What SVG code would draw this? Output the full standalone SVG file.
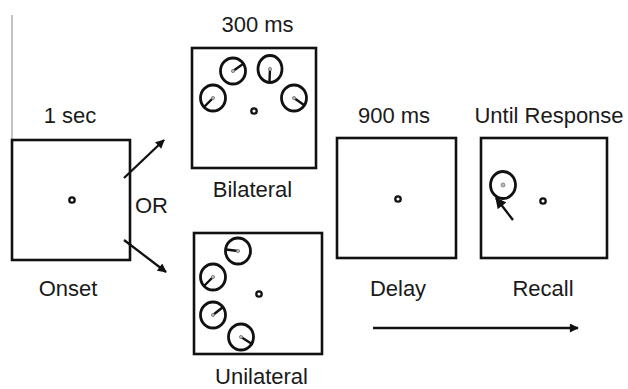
<svg xmlns="http://www.w3.org/2000/svg" width="628" height="389" viewBox="0 0 628 389">
  <style>
    .lbl { font-family: "Liberation Sans", Arial, sans-serif; font-size: 22px; fill: #1a1a1a; text-anchor: middle; }
    .box { fill: #ffffff; stroke: #111111; stroke-width: 2.6; }
    .fix { fill: #ffffff; stroke: #111111; stroke-width: 2.3; }
    .ring { fill: none; stroke: #111111; stroke-width: 2.8; }
    .hand { stroke: #111111; stroke-width: 2.4; stroke-linecap: round; }
    .pivot { fill: #bbbbbb; stroke: #777777; stroke-width: 0.8; }
    .conn { stroke: #111111; stroke-width: 2.3; fill: none; }
  </style>
  <defs>
    <marker id="ah" viewBox="0 0 10 10" refX="9" refY="5" markerUnits="userSpaceOnUse" markerWidth="10" markerHeight="9" orient="auto">
      <path d="M0,0 L10,5 L0,10 z" fill="#111111"/>
    </marker>
    <marker id="ahBig" viewBox="0 0 10 10" refX="9" refY="5" markerUnits="userSpaceOnUse" markerWidth="12" markerHeight="11" orient="auto">
      <path d="M0,0 L10,5 L0,10 z" fill="#111111"/>
    </marker>
  </defs>

  <line x1="12" y1="15" x2="12" y2="140" stroke="#8a8a8a" stroke-width="1"/>

  <g id="onset">
    <rect class="box" x="12" y="140" width="118" height="120"/>
    <circle class="fix" cx="72" cy="200" r="2.7"/>
    <text class="lbl" x="70" y="123">1 sec</text>
    <text class="lbl" x="68" y="296">Onset</text>
  </g>

  <g id="bilateral">
    <rect class="box" x="192" y="48" width="124" height="120"/>
    <circle class="fix" cx="254" cy="111" r="2.7"/>
    <ellipse class="ring" cx="233" cy="71" rx="12.5" ry="13"/>
    <line class="hand" x1="233" y1="71" x2="243" y2="64"/>
    <circle class="pivot" cx="233" cy="71" r="1.6"/>
    <ellipse class="ring" cx="270" cy="69" rx="12" ry="13.5"/>
    <line class="hand" x1="270" y1="69" x2="269.5" y2="81"/>
    <circle class="pivot" cx="270" cy="69" r="1.6"/>
    <ellipse class="ring" cx="213" cy="98" rx="12.5" ry="13"/>
    <line class="hand" x1="213" y1="98" x2="204.5" y2="106.5"/>
    <circle class="pivot" cx="213" cy="98" r="1.6"/>
    <ellipse class="ring" cx="294" cy="98" rx="12.5" ry="13"/>
    <line class="hand" x1="294" y1="98" x2="304" y2="105"/>
    <circle class="pivot" cx="294" cy="98" r="1.6"/>
    <text class="lbl" x="257.5" y="32">300 ms</text>
    <text class="lbl" x="252.5" y="197">Bilateral</text>
  </g>

  <g id="unilateral">
    <rect class="box" x="194" y="233" width="128" height="121"/>
    <circle class="fix" cx="259" cy="294" r="2.7"/>
    <ellipse class="ring" cx="238" cy="251" rx="12.5" ry="13"/>
    <line class="hand" x1="238" y1="251" x2="226" y2="249.5"/>
    <circle class="pivot" cx="238" cy="251" r="1.6"/>
    <ellipse class="ring" cx="213" cy="277" rx="12.5" ry="13"/>
    <line class="hand" x1="213" y1="277" x2="204.5" y2="285.5"/>
    <circle class="pivot" cx="213" cy="277" r="1.6"/>
    <ellipse class="ring" cx="213" cy="315" rx="12.5" ry="13"/>
    <line class="hand" x1="213" y1="315" x2="223" y2="307"/>
    <circle class="pivot" cx="213" cy="315" r="1.6"/>
    <ellipse class="ring" cx="241" cy="337" rx="12.5" ry="13"/>
    <line class="hand" x1="241" y1="337" x2="252" y2="344"/>
    <circle class="pivot" cx="241" cy="337" r="1.6"/>
    <text class="lbl" x="261.5" y="384">Unilateral</text>
  </g>

  <g id="delay">
    <rect class="box" x="337" y="138" width="119" height="120"/>
    <circle class="fix" cx="398" cy="199" r="2.7"/>
    <text class="lbl" x="394" y="123">900 ms</text>
    <text class="lbl" x="398" y="296">Delay</text>
  </g>

  <g id="recall">
    <rect class="box" x="481" y="138" width="126" height="120"/>
    <circle class="fix" cx="543" cy="201" r="2.7"/>
    <ellipse class="ring" cx="503" cy="185" rx="12.5" ry="13.5"/>
    <circle class="pivot" cx="503" cy="185" r="2"/>
    <line class="conn" x1="513" y1="220" x2="496" y2="198" stroke-width="3.2" marker-end="url(#ahBig)"/>
    <text class="lbl" x="549" y="123">Until Response</text>
    <text class="lbl" x="543" y="296">Recall</text>
  </g>

  <g id="connectors">
    <line class="conn" x1="124" y1="178" x2="164" y2="140" marker-end="url(#ah)"/>
    <line class="conn" x1="124" y1="240" x2="166" y2="272" marker-end="url(#ah)"/>
    <text class="lbl" x="151.5" y="213">OR</text>
    <line class="conn" x1="373" y1="328" x2="578" y2="328" stroke-width="2.6" marker-end="url(#ah)"/>
  </g>
</svg>
